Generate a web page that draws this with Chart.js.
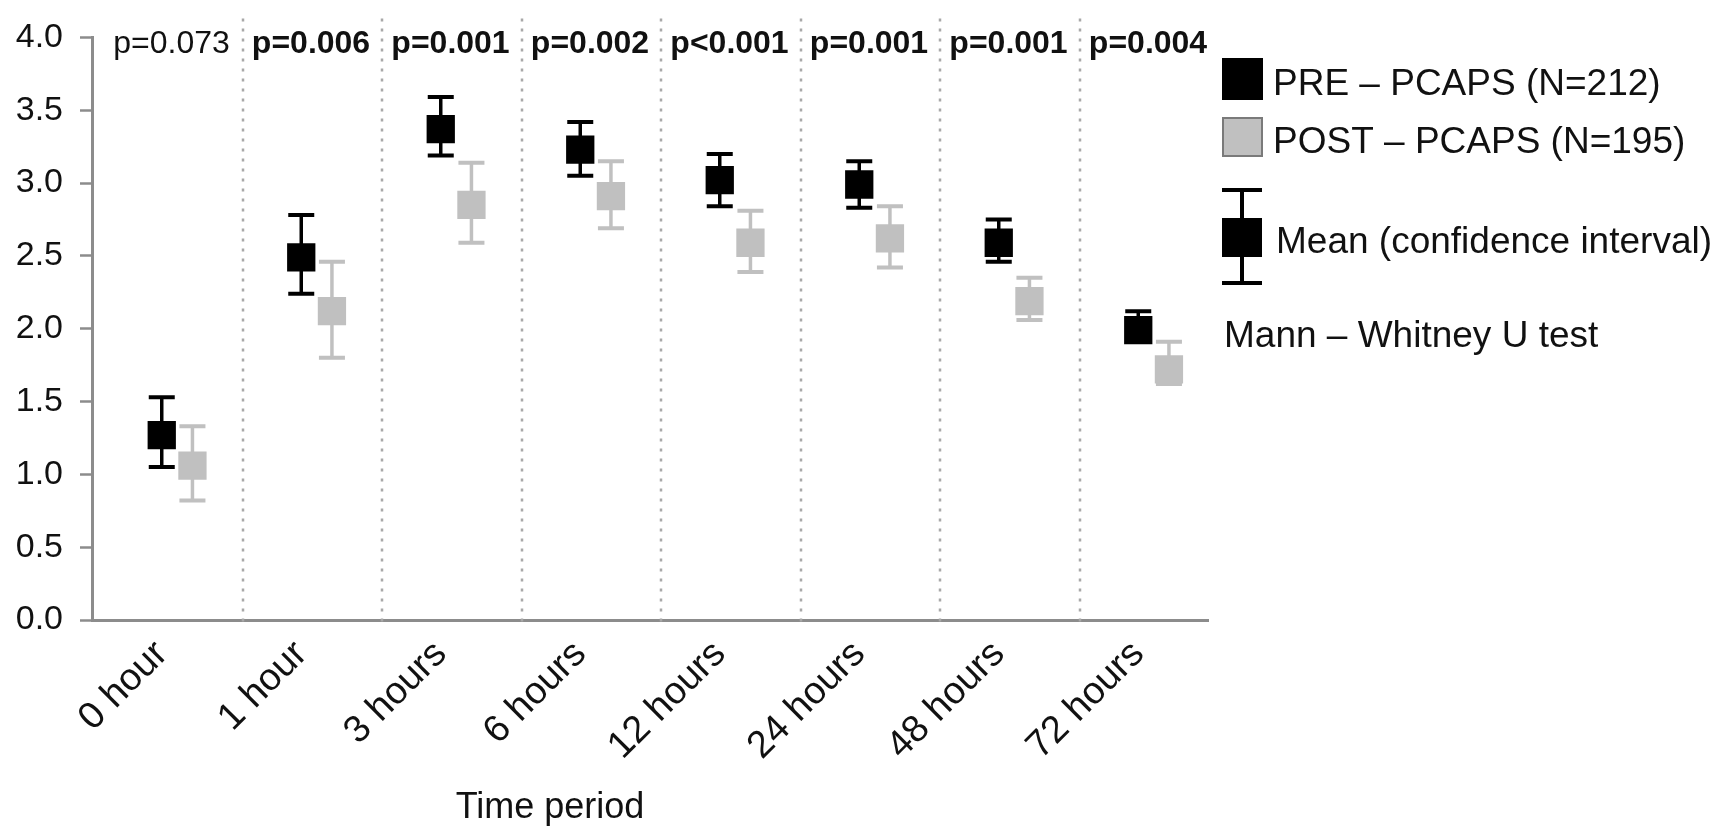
<!DOCTYPE html>
<html>
<head>
<meta charset="utf-8">
<script src="https://cdn.jsdelivr.net/npm/chart.js@4.4.1/dist/chart.umd.min.js"></script>
<style>
  html, body { margin: 0; padding: 0; background: #fff; }
</style>
</head>
<body>
<canvas id="chart" width="1731" height="826"></canvas>
<script>
const timeLabels = ["0 hour", "1 hour", "3 hours", "6 hours", "12 hours", "24 hours", "48 hours", "72 hours"];
const preMean  = [1.27, 2.49, 3.37, 3.23, 3.02, 2.99, 2.59, 1.99];
const preLow   = [1.05, 2.24, 3.19, 3.05, 2.84, 2.83, 2.46, 1.92];
const preHigh  = [1.53, 2.78, 3.59, 3.42, 3.20, 3.15, 2.75, 2.12];
const postMean = [1.06, 2.12, 2.85, 2.91, 2.59, 2.62, 2.19, 1.72];
const postLow  = [0.82, 1.80, 2.59, 2.69, 2.39, 2.42, 2.06, 1.62];
const postHigh = [1.33, 2.46, 3.14, 3.15, 2.81, 2.84, 2.35, 1.91];
const pValues = ["p=0.073", "p=0.006", "p=0.001", "p=0.002", "p<0.001", "p=0.001", "p=0.001", "p=0.004"];
const pSignificant = [false, true, true, true, true, true, true, true];
const yTicks = [0, 0.5, 1, 1.5, 2, 2.5, 3, 3.5, 4];

const FONT = "'Liberation Sans', Arial, sans-serif";
const TEXT = "#111";
const AXIS = "#8c8c8c";
const PRE_COLOR = "#000000";
const POST_COLOR = "#c0c0c0";

// dotted separators between time periods
const separators = {
  id: "separators",
  beforeDatasetsDraw(chart) {
    const { ctx, chartArea, scales: { x } } = chart;
    ctx.save();
    ctx.strokeStyle = "#a8a8a8";
    ctx.lineWidth = 2.5;
    ctx.setLineDash([3, 7]);
    for (let i = 0; i < timeLabels.length - 1; i++) {
      const px = Math.round(x.getPixelForValue(i + 0.58));
      ctx.beginPath();
      ctx.moveTo(px, chartArea.top - 19);
      ctx.lineTo(px, chartArea.bottom + 5);
      ctx.stroke();
    }
    ctx.restore();
  }
};

// confidence interval whiskers, drawn under the mean squares
const errorBars = {
  id: "errorBars",
  beforeDatasetsDraw(chart) {
    const { ctx, scales: { x, y } } = chart;
    chart.data.datasets.forEach((ds) => {
      ds.data.forEach((pt, i) => {
        const px = x.getPixelForValue(pt.x);
        const yl = y.getPixelForValue(ds.ciLow[i]);
        const yh = y.getPixelForValue(ds.ciHigh[i]);
        ctx.save();
        ctx.strokeStyle = ds.backgroundColor;
        ctx.lineWidth = 3.5;
        ctx.beginPath();
        ctx.moveTo(px, yl);
        ctx.lineTo(px, yh);
        ctx.stroke();
        ctx.lineWidth = 4;
        ctx.beginPath();
        ctx.moveTo(px - 13, yl); ctx.lineTo(px + 13, yl);
        ctx.moveTo(px - 13, yh); ctx.lineTo(px + 13, yh);
        ctx.stroke();
        ctx.restore();
      });
    });
  }
};

// p-values, axis title and the legend block
const annotations = {
  id: "annotations",
  afterDraw(chart) {
    const { ctx, chartArea, scales: { x } } = chart;
    ctx.save();
    ctx.fillStyle = TEXT;
    ctx.textBaseline = "alphabetic";

    ctx.textAlign = "center";
    pValues.forEach((p, i) => {
      ctx.font = (pSignificant[i] ? "bold " : "") + "32px " + FONT;
      ctx.fillText(p, x.getPixelForValue(i + 0.07), chartArea.top + 16);
    });

    ctx.font = "36px " + FONT;
    ctx.fillText("Time period", 550, 818);

    // legend
    const lx = chartArea.right + 14;
    ctx.textAlign = "left";
    ctx.font = "37px " + FONT;

    ctx.fillStyle = PRE_COLOR;
    ctx.fillRect(lx, 58, 41, 42);
    ctx.fillStyle = TEXT;
    ctx.fillText(chart.data.datasets[0].label, lx + 51, 95);

    ctx.fillStyle = POST_COLOR;
    ctx.fillRect(lx, 117, 41, 40);
    ctx.strokeStyle = "#7a7a7a";
    ctx.lineWidth = 2;
    ctx.strokeRect(lx + 1, 118, 39, 38);
    ctx.fillStyle = TEXT;
    ctx.fillText(chart.data.datasets[1].label, lx + 51, 153);

    const cx = lx + 20;
    ctx.strokeStyle = PRE_COLOR;
    ctx.lineWidth = 4;
    ctx.beginPath();
    ctx.moveTo(cx, 190); ctx.lineTo(cx, 283);
    ctx.moveTo(lx, 190); ctx.lineTo(lx + 40, 190);
    ctx.moveTo(lx, 283); ctx.lineTo(lx + 40, 283);
    ctx.stroke();
    ctx.fillStyle = PRE_COLOR;
    ctx.fillRect(lx, 218, 40, 39);
    ctx.fillStyle = TEXT;
    ctx.fillText("Mean (confidence interval)", lx + 54, 253);

    ctx.fillText("Mann \u2013 Whitney U test", lx + 2, 347);
    ctx.restore();
  }
};

const ctx = document.getElementById("chart").getContext("2d");
new Chart(ctx, {
  type: "scatter",
  data: {
    datasets: [
      {
        label: "PRE \u2013 PCAPS (N=212)",
        data: preMean.map((v, i) => ({ x: i, y: v })),
        ciLow: preLow,
        ciHigh: preHigh,
        backgroundColor: PRE_COLOR,
        borderWidth: 0,
        pointStyle: "rect",
        pointRadius: 20,
        pointHoverRadius: 20,
      },
      {
        label: "POST \u2013 PCAPS (N=195)",
        data: postMean.map((v, i) => ({ x: i + 0.22, y: v })),
        ciLow: postLow,
        ciHigh: postHigh,
        backgroundColor: POST_COLOR,
        borderWidth: 0,
        pointStyle: "rect",
        pointRadius: 20,
        pointHoverRadius: 20,
      },
    ],
  },
  options: {
    responsive: false,
    animation: false,
    devicePixelRatio: 1,
    layout: { padding: { top: 27, right: 523, bottom: 0, left: 0 } },
    plugins: {
      legend: { display: false },
      tooltip: { enabled: false },
    },
    scales: {
      x: {
        type: "linear",
        min: -0.5,
        max: 7.5,
        afterBuildTicks: (s) => {
          s.ticks = timeLabels.map((_, i) => ({ value: i }));
        },
        afterFit: (s) => { s.height = 206; },
        ticks: {
          autoSkip: false,
          minRotation: 45,
          maxRotation: 45,
          padding: 4,
          color: TEXT,
          font: { size: 38, family: FONT },
          callback: (v, i) => timeLabels[i],
        },
        grid: { display: false },
        border: { display: true, color: AXIS, width: 3 },
      },
      y: {
        min: 0,
        max: 4,
        afterBuildTicks: (s) => {
          s.ticks = yTicks.map((v) => ({ value: v }));
        },
        afterFit: (s) => { s.width = 92; },
        ticks: {
          padding: 17,
          color: TEXT,
          font: { size: 34, family: FONT },
          callback: (v) => v.toFixed(1),
        },
        grid: { drawOnChartArea: false, tickLength: 12, tickWidth: 2.5, tickColor: AXIS },
        border: { display: true, color: AXIS, width: 3 },
      },
    },
  },
  plugins: [separators, errorBars, annotations],
});
</script>
</body>
</html>
